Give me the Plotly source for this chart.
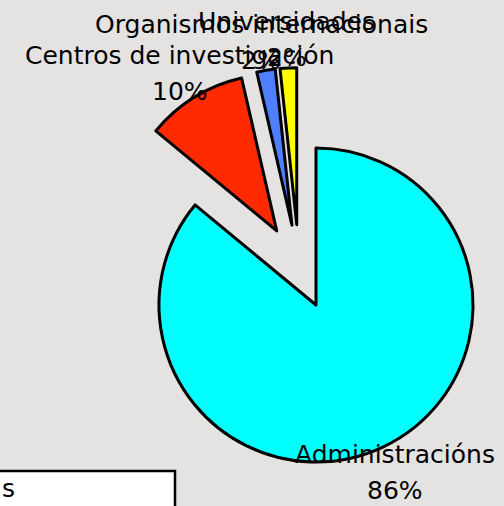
import math
import plotly.graph_objects as go

# ---------------- data ----------------
labels = ["Administracións", "Centros de investigación",
          "Organismos internacionais", "Universidades"]
values = [86.0, 10.4, 1.9, 1.7]
exploded = [False, True, True, True]
legend_fragment = "s"

# ---------------- styles / layout geometry (pixels) ----------------
colors = ["#00ffff", "#ff2a00", "#4d7fff", "#ffff00"]
W, H = 504, 506
C_MAIN = (316, 305)       # centre of the un-exploded pie
C_EXPL = (299, 267)       # centre from which the exploded slices are pulled
R = 157                   # pie radius
PULL = 0.27               # explode distance as fraction of the radius
LABEL_GAP = 28            # label centre distance beyond the rim
LINE_OFF = 18             # half distance between label lines
BG = "#e4e3e1"
FONT = dict(family="DejaVu Sans", size=25, color="black")
CLEAR = "rgba(0,0,0,0)"


def domain(c, half):
    return dict(x=[(c[0] - half) / W, (c[0] + half) / W],
                y=[1 - (c[1] + half) / H, 1 - (c[1] - half) / H])


fig = go.Figure()
# non-exploded slice(s)
fig.add_trace(go.Pie(
    labels=labels, values=values, sort=False, direction="clockwise", rotation=0,
    marker=dict(colors=[CLEAR if e else c for c, e in zip(colors, exploded)],
                line=dict(color="black", width=[0 if e else 3 for e in exploded])),
    textinfo="none", hoverinfo="label+percent", showlegend=False,
    domain=domain(C_MAIN, R)))
# exploded slices
fig.add_trace(go.Pie(
    labels=labels, values=values, sort=False, direction="clockwise", rotation=0,
    pull=[PULL if e else 0 for e in exploded],
    marker=dict(colors=[c if e else CLEAR for c, e in zip(colors, exploded)],
                line=dict(color="black", width=[3 if e else 0 for e in exploded])),
    textinfo="none", hoverinfo="label+percent", showlegend=False,
    domain=domain(C_EXPL, R * (1 + PULL))))

# labels placed along each slice's bisector
total = sum(values)
cum = 0.0
annotations = []
for lab, v, e in zip(labels, values, exploded):
    mid = math.radians(360.0 * (cum + v / 2) / total)
    cum += v
    dx, dy = math.sin(mid), -math.cos(mid)
    if e:
        ax, ay = C_EXPL[0] + PULL * R * dx, C_EXPL[1] + PULL * R * dy
    else:
        ax, ay = C_MAIN
    lx, ly = ax + (R + LABEL_GAP) * dx, ay + (R + LABEL_GAP) * dy
    pct = f"{round(100 * v / total)}%"
    for txt, yy in ((lab, ly - LINE_OFF), (pct, ly + LINE_OFF)):
        annotations.append(dict(x=lx / W, y=1 - yy / H, xref="paper", yref="paper",
                                text=txt, showarrow=False, font=FONT,
                                xanchor="center", yanchor="middle"))

# cropped legend box
annotations.append(dict(x=0, y=1 - 488 / H, xref="paper", yref="paper",
                        text=legend_fragment, showarrow=False, font=FONT,
                        xanchor="left", yanchor="middle"))

fig.update_layout(
    width=W, height=H, margin=dict(l=0, r=0, t=0, b=0),
    paper_bgcolor=BG, plot_bgcolor=BG, showlegend=False,
    annotations=annotations,
    shapes=[dict(type="rect", xref="paper", yref="paper",
                 x0=-10 / W, x1=175 / W, y0=1 - 520 / H, y1=1 - 471 / H,
                 fillcolor="white", line=dict(color="black", width=2.5),
                 layer="below")],
)

fig.write_html("out.html",
               config={"displayModeBar": False},
               post_script="document.body.style.margin='0px';"
                           "document.body.style.overflow='hidden';")
